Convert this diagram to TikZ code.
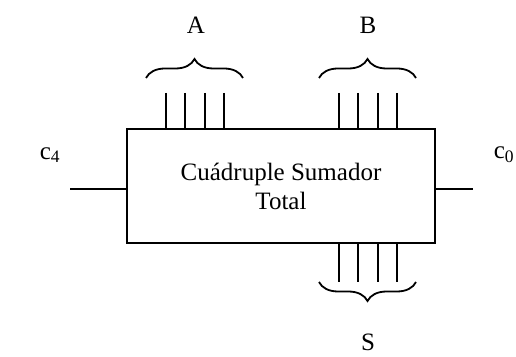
\documentclass[tikz,border=0pt]{standalone}
\usepackage{fontspec}
\setmainfont{Liberation Serif}
\usetikzlibrary{positioning,decorations.pathreplacing}

\begin{document}
\begin{tikzpicture}[x=1pt,y=1pt,line width=1.8pt,
      bloque/.style={draw,minimum width=308pt,minimum height=114pt,align=center,font=\fontsize{25}{29}\selectfont,inner sep=0pt},
      etiqueta/.style={font=\fontsize{25}{29}\selectfont,inner sep=0pt},
      llave/.style={decorate,decoration={brace,amplitude=19pt}}]
    \useasboundingbox (0,0) rectangle (516,356);
    \node[bloque] (sum) at (281,170) {Cuádruple Sumador\\ Total};
    % acarreos
    \coordinate (c4p) at (70,167);
    \coordinate (c0p) at (473,167);
    \draw (c4p) -- (c4p -| sum.west);
    \draw (sum.east |- c0p) -- (c0p);
    \node[etiqueta] (c4) at (50,201) {c\textsubscript{4}};
    \node[etiqueta] (c0) at (504,201) {c\textsubscript{0}};
    % buses de entrada y salida
    \foreach \i/\xa/\xb in {0/166/339,1/185/358,2/205/378,3/224/397} {
      \coordinate (a\i) at (\xa,263);
      \coordinate (b\i) at (\xb,263);
      \coordinate (s\i) at (\xb,74);
      \draw (a\i) -- (a\i |- sum.north);
      \draw (b\i) -- (b\i |- sum.north);
      \draw (sum.south -| s\i) -- (s\i);
    }
    % llaves
    \coordinate (la1) at (146,278);
    \coordinate (la2) at (243,278);
    \coordinate (lb1) at (319,278);
    \coordinate (lb2) at (416,278);
    \coordinate (ls1) at (319,74);
    \coordinate (ls2) at (416,74);
    \draw[llave] (la1) -- (la2);
    \draw[llave] (lb1) -- (lb2);
    \draw[llave] (ls2) -- (ls1);
    \node[etiqueta] (A) at (196,331) {A};
    \node[etiqueta] (B) at (368,331) {B};
    \node[etiqueta] (S) at (368,14) {S};
  \end{tikzpicture}
\end{document}
